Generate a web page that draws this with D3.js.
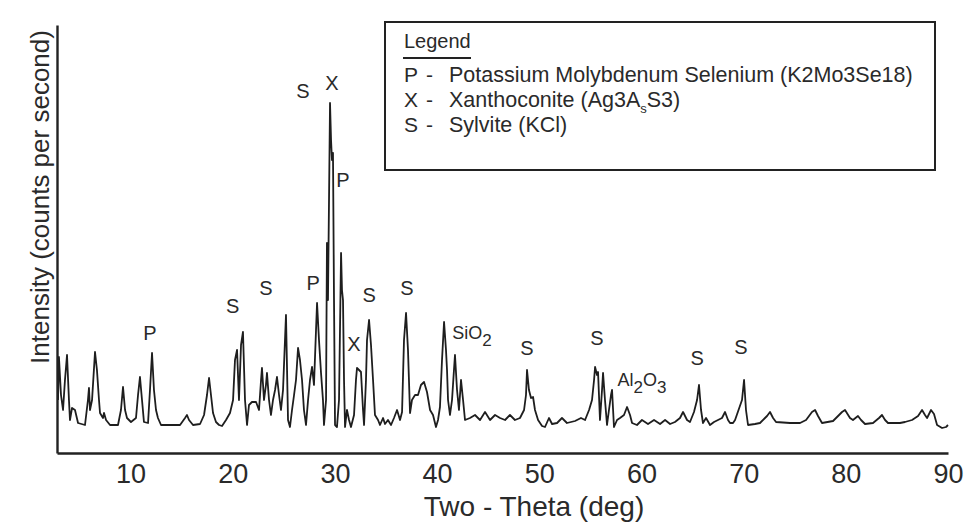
<!DOCTYPE html>
<html>
<head>
<meta charset="utf-8">
<script src="https://cdn.jsdelivr.net/npm/d3@7"></script>
<style>
  body { margin: 0; background: #fff; }
  svg text { font-family: "Liberation Sans", Arial, sans-serif; fill: #2a2a2a; }
</style>
</head>
<body>
<div id="chart"></div>
<script>
// X-ray diffraction scan: [two-theta (deg), counts]
const scan = [
  [2.90, 53], [2.99, 96], [3.19, 58], [3.39, 43], [3.58, 73], [3.78, 98], [3.97, 53], [4.07, 33],
  [4.27, 45], [4.56, 43], [4.86, 30], [5.54, 28], [5.83, 53], [5.93, 65], [6.03, 43], [6.23, 53],
  [6.52, 101], [6.71, 83], [6.91, 53], [7.01, 40], [7.30, 35], [7.40, 40], [7.60, 33], [7.99, 28],
  [8.77, 28], [9.06, 43], [9.26, 66], [9.46, 43], [9.65, 35], [10.04, 31], [10.53, 35], [10.73, 58],
  [10.92, 76], [11.12, 53], [11.31, 31], [11.71, 30], [11.90, 63], [12.10, 100], [12.29, 63], [12.49, 43],
  [12.68, 35], [12.98, 28], [14.84, 28], [15.33, 35], [15.52, 38], [15.72, 33], [16.11, 28], [16.80, 29],
  [17.19, 38], [17.48, 58], [17.68, 75], [17.87, 58], [18.07, 40], [18.36, 31], [18.66, 28], [18.95, 27],
  [19.34, 33], [19.73, 40], [20.03, 53], [20.22, 93], [20.42, 103], [20.61, 53], [20.81, 108], [21.00, 121],
  [21.20, 53], [21.40, 28], [21.59, 48], [21.88, 51], [22.28, 51], [22.57, 43], [22.77, 73], [22.86, 85],
  [23.06, 53], [23.25, 68], [23.35, 80], [23.55, 53], [23.74, 38], [23.94, 53], [24.14, 63], [24.33, 76],
  [24.53, 58], [24.72, 43], [24.92, 63], [25.21, 138], [25.41, 33], [25.60, 26], [25.80, 43], [26.00, 58],
  [26.19, 73], [26.39, 105], [26.58, 93], [26.78, 73], [26.97, 43], [27.17, 28], [27.37, 53], [27.56, 73],
  [27.76, 86], [27.95, 68], [28.15, 123], [28.25, 150], [28.44, 113], [28.64, 80], [28.83, 53], [28.93, 28],
  [29.13, 53], [29.22, 210], [29.32, 153], [29.52, 350], [29.62, 313], [29.71, 293], [29.81, 300], [29.91, 153],
  [30.01, 28], [30.20, 26], [30.40, 53], [30.60, 200], [30.69, 163], [30.79, 153], [30.89, 73], [30.99, 26],
  [31.18, 43], [31.38, 33], [31.57, 26], [31.87, 38], [32.06, 73], [32.16, 85], [32.36, 83], [32.55, 81],
  [32.75, 43], [32.85, 28], [33.04, 73], [33.14, 113], [33.34, 133], [33.53, 108], [33.73, 73], [33.92, 38],
  [34.22, 33], [34.41, 28], [34.71, 35], [34.90, 29], [35.19, 33], [35.49, 28], [35.78, 35], [36.08, 43],
  [36.37, 33], [36.57, 41], [36.76, 113], [36.96, 140], [37.15, 103], [37.35, 40], [37.54, 53], [37.84, 58],
  [38.13, 58], [38.42, 68], [38.72, 71], [39.01, 61], [39.31, 43], [39.60, 38], [39.89, 26], [40.09, 33],
  [40.28, 46], [40.48, 93], [40.68, 131], [40.87, 103], [40.97, 83], [41.07, 53], [41.26, 38], [41.46, 53],
  [41.65, 83], [41.75, 98], [41.95, 63], [42.14, 43], [42.34, 73], [42.54, 53], [42.73, 33], [43.22, 35],
  [43.71, 38], [44.20, 33], [44.69, 41], [45.18, 33], [45.67, 38], [46.16, 35], [46.65, 33], [47.13, 38],
  [47.62, 33], [48.11, 35], [48.51, 43], [48.70, 58], [48.80, 83], [48.99, 63], [49.19, 55], [49.39, 56],
  [49.58, 43], [49.88, 33], [50.27, 27], [50.56, 26], [50.95, 35], [51.25, 29], [51.74, 30], [52.22, 35],
  [52.71, 30], [53.50, 32], [54.08, 35], [54.48, 33], [54.87, 43], [55.16, 53], [55.36, 73], [55.46, 86],
  [55.65, 78], [55.75, 81], [55.94, 33], [56.14, 63], [56.24, 80], [56.43, 53], [56.63, 28], [56.82, 43],
  [57.02, 58], [57.12, 63], [57.31, 26], [57.61, 33], [57.90, 35], [58.29, 38], [58.59, 46], [58.88, 38],
  [59.08, 30], [59.56, 28], [60.05, 33], [60.64, 29], [61.23, 33], [61.82, 29], [62.31, 33], [62.80, 29],
  [63.28, 31], [63.77, 35], [64.07, 41], [64.46, 33], [64.75, 31], [65.14, 41], [65.44, 53], [65.63, 68],
  [65.83, 43], [66.02, 30], [66.32, 35], [66.71, 28], [67.10, 31], [67.49, 33], [67.88, 35], [68.18, 41],
  [68.47, 33], [68.67, 30], [68.96, 30], [69.16, 33], [69.84, 53], [70.04, 73], [70.23, 43], [70.43, 28],
  [71.11, 29], [71.60, 30], [72.09, 35], [72.29, 37], [72.58, 41], [72.88, 35], [73.17, 31], [74.54, 30],
  [75.52, 30], [76.11, 33], [76.69, 41], [76.99, 43], [77.28, 37], [77.67, 30], [78.75, 32], [79.24, 37],
  [79.63, 41], [79.92, 43], [80.41, 35], [80.70, 33], [81.19, 37], [81.49, 33], [81.88, 29], [82.66, 30],
  [83.25, 35], [83.54, 38], [83.84, 33], [84.13, 30], [85.30, 30], [85.79, 31], [86.48, 33], [87.07, 37],
  [87.46, 43], [87.75, 38], [87.95, 35], [88.34, 43], [88.63, 39], [88.93, 28], [89.42, 25], [89.81, 26],
  [90.00, 28]
];

// Phase markers: label, two-theta and height (counts) of the label centre
const peakLabels = ["P", "S", "S", "S", "X", "P", "P", "X", "S", "S", "S", "S", "S", "S"];
const peakTheta  = [11.9, 20.0, 23.25, 26.88, 29.71, 30.79, 27.86, 31.87, 33.34, 37.05, 48.8, 55.65, 65.44, 69.74];
const peakHeight = [118, 145, 163, 360, 368, 271, 168, 107, 156, 163, 103, 113, 93, 104];

// Compound labels with subscripts
const compounds = [
  { parts: [["SiO", false], ["2", true]], theta: 43.42, height: 120 },
  { parts: [["Al", false], ["2", true], ["O", false], ["3", true]], theta: 60.05, height: 73 }
];

const legendKeys  = ["P", "X", "S"];
const legendNames = ["Potassium Molybdenum Selenium (K2Mo3Se18)", "Xanthoconite (Ag3A", "Sylvite (KCl)"];

const xTicks = [10, 20, 30, 40, 50, 60, 70, 80, 90];

const W = 966, H = 525;
const svg = d3.select("#chart").append("svg")
    .attr("width", W)
    .attr("height", H);

const x = d3.scaleLinear().domain([2.8, 90]).range([57, 948]);
const y = d3.scaleLinear().domain([0, 428]).range([453, 25]);

// the scan trace
const line = d3.line()
    .x(d => x(d[0]))
    .y(d => y(d[1]));

svg.append("path")
    .datum(scan)
    .attr("fill", "none")
    .attr("stroke", "#1e1e1e")
    .attr("stroke-width", 1.8)
    .attr("stroke-linejoin", "round")
    .attr("d", line);

// axes
const xAxis = svg.append("g")
    .attr("transform", `translate(0,${y(0)})`)
    .call(d3.axisBottom(x).tickValues(xTicks).tickSize(0).tickSizeOuter(0).tickPadding(11));
xAxis.select(".domain").attr("stroke", "#222").attr("stroke-width", 2.4);
xAxis.selectAll("text")
    .style("font-size", "27px")
    .style("font-family", "'Liberation Sans', Arial, sans-serif")
    .attr("fill", "#333");

const yAxis = svg.append("g")
    .attr("transform", `translate(${x(2.8)},0)`)
    .call(d3.axisLeft(y).tickValues([]).tickSizeOuter(0));
yAxis.select(".domain").attr("stroke", "#222").attr("stroke-width", 2.4);

// axis titles
svg.append("text")
    .attr("x", 534)
    .attr("y", 516)
    .attr("text-anchor", "middle")
    .style("font-size", "28px")
    .text("Two - Theta (deg)");

svg.append("text")
    .attr("transform", "translate(49,197) rotate(-90)")
    .attr("text-anchor", "middle")
    .style("font-size", "26px")
    .text("Intensity (counts per second)");

// peak markers
svg.selectAll(".peak")
    .data(peakLabels)
    .join("text")
    .attr("class", "peak")
    .attr("x", (d, i) => x(peakTheta[i]))
    .attr("y", (d, i) => y(peakHeight[i]))
    .attr("text-anchor", "middle")
    .attr("dominant-baseline", "middle")
    .style("font-size", "20px")
    .text(d => d);

compounds.forEach(c => {
    const t = svg.append("text")
        .attr("x", x(c.theta))
        .attr("y", y(c.height) + 6)
        .attr("text-anchor", "middle")
        .style("font-size", "18px");
    c.parts.forEach(p => {
        t.append("tspan")
            .attr("dy", p[1] ? 7 : (t.selectAll("tspan").size() > 1 ? -7 : 0))
            .style("font-size", p[1] ? "17px" : "18px")
            .text(p[0]);
    });
});

// legend
const lg = svg.append("g");
lg.append("rect")
    .attr("x", 385).attr("y", 22)
    .attr("width", 550).attr("height", 148)
    .attr("fill", "#fff")
    .attr("stroke", "#222")
    .attr("stroke-width", 2);

lg.append("text")
    .attr("x", 404).attr("y", 48)
    .style("font-size", "20px")
    .text("Legend");
lg.append("line")
    .attr("x1", 403).attr("x2", 471)
    .attr("y1", 58).attr("y2", 58)
    .attr("stroke", "#222").attr("stroke-width", 2);

legendKeys.forEach((k, i) => {
    const yy = 82 + i * 25;
    lg.append("text").attr("x", 404).attr("y", yy).style("font-size", "21px").text(k);
    lg.append("text").attr("x", 426).attr("y", yy).style("font-size", "21px").text("-");
    const t = lg.append("text").attr("x", 449).attr("y", yy).style("font-size", "21.5px");
    t.append("tspan").text(legendNames[i]);
    if (k === "X") {
        t.append("tspan").attr("dy", 6).style("font-size", "13px").text("s");
        t.append("tspan").attr("dy", -6).text("S3)");
    }
});
</script>
</body>
</html>
